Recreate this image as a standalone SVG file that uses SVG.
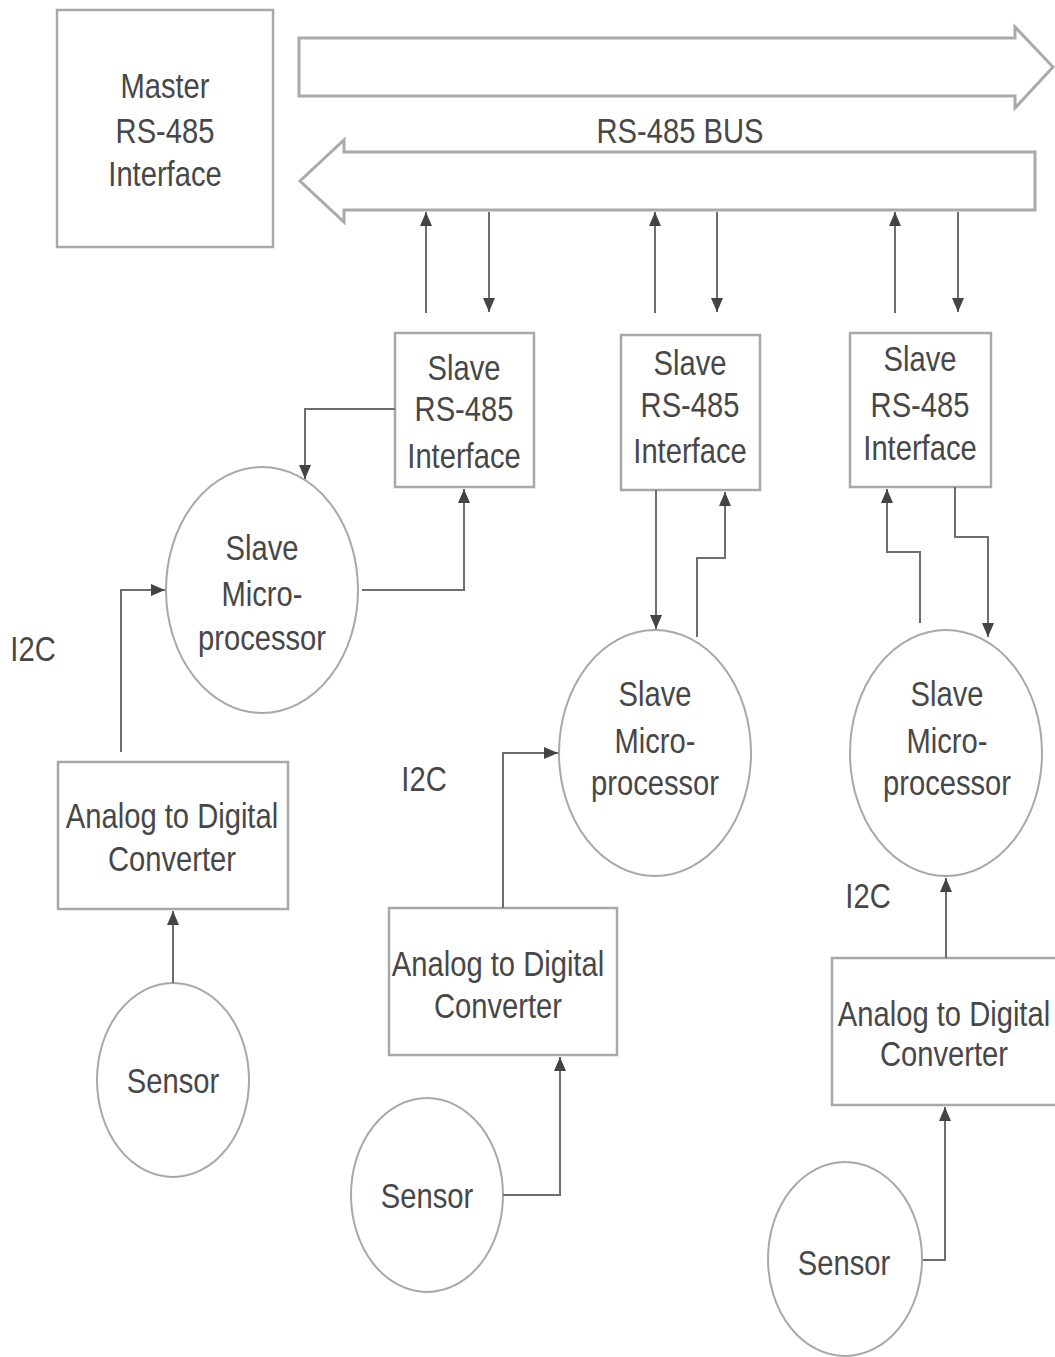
<svg xmlns="http://www.w3.org/2000/svg" width="1055" height="1357" viewBox="0 0 1055 1357">
<style>
.box{fill:#fff;stroke:#a8a8a8;stroke-width:2.5}
.ell{fill:#fff;stroke:#a8a8a8;stroke-width:2}
.bus{fill:#fff;stroke:#aaaaaa;stroke-width:3}
.t{font-family:"Liberation Sans",Arial,sans-serif;font-size:36px;fill:#474747;text-anchor:middle}
.c{fill:none;stroke:#6e6e6e;stroke-width:2;marker-end:url(#ah)}
</style>
<defs>
<marker id="ah" viewBox="0 0 14 12" refX="14" refY="6" markerWidth="14" markerHeight="12" markerUnits="userSpaceOnUse" orient="auto">
<path d="M0,0 L14,6 L0,12 z" fill="#444"/>
</marker>
</defs>
<rect width="1055" height="1357" fill="#fff"/>

<g id="master">
<rect class="box" x="57" y="10" width="216" height="237"/>
<text class="t" transform="translate(165,98) scale(0.81,1)">Master</text>
<text class="t" transform="translate(165,143) scale(0.81,1)">RS-485</text>
<text class="t" transform="translate(165,186) scale(0.81,1)">Interface</text>
</g>

<g id="bus">
<polygon class="bus" points="299,38 1015,38 1015,27 1053,67 1015,108 1015,96 299,96"/>
<polygon class="bus" points="1035,152 344,152 344,140 300,181 344,222 344,210 1035,210"/>
<text class="t" transform="translate(680,143) scale(0.81,1)">RS-485 BUS</text>
</g>

<g id="slave1">
<rect class="box" x="395" y="333" width="139" height="154"/>
<text class="t" transform="translate(464,380) scale(0.81,1)">Slave</text>
<text class="t" transform="translate(464,421) scale(0.81,1)">RS-485</text>
<text class="t" transform="translate(464,468) scale(0.81,1)">Interface</text>
</g>
<g id="slave2">
<rect class="box" x="621" y="335" width="139" height="155"/>
<text class="t" transform="translate(690,375) scale(0.81,1)">Slave</text>
<text class="t" transform="translate(690,417) scale(0.81,1)">RS-485</text>
<text class="t" transform="translate(690,463) scale(0.81,1)">Interface</text>
</g>
<g id="slave3">
<rect class="box" x="850" y="333" width="141" height="154"/>
<text class="t" transform="translate(920,371) scale(0.81,1)">Slave</text>
<text class="t" transform="translate(920,417) scale(0.81,1)">RS-485</text>
<text class="t" transform="translate(920,460) scale(0.81,1)">Interface</text>
</g>

<g id="micro1">
<ellipse class="ell" cx="262" cy="590" rx="96" ry="123"/>
<text class="t" transform="translate(262,560) scale(0.81,1)">Slave</text>
<text class="t" transform="translate(262,606) scale(0.81,1)">Micro-</text>
<text class="t" transform="translate(262,650) scale(0.81,1)">processor</text>
</g>
<g id="micro2">
<ellipse class="ell" cx="655" cy="753" rx="96" ry="123"/>
<text class="t" transform="translate(655,706) scale(0.81,1)">Slave</text>
<text class="t" transform="translate(655,753) scale(0.81,1)">Micro-</text>
<text class="t" transform="translate(655,795) scale(0.81,1)">processor</text>
</g>
<g id="micro3">
<ellipse class="ell" cx="946" cy="753" rx="96" ry="123"/>
<text class="t" transform="translate(947,706) scale(0.81,1)">Slave</text>
<text class="t" transform="translate(947,753) scale(0.81,1)">Micro-</text>
<text class="t" transform="translate(947,795) scale(0.81,1)">processor</text>
</g>

<g id="i2c-labels">
<text class="t" transform="translate(33,661) scale(0.81,1)">I2C</text>
<text class="t" transform="translate(424,791) scale(0.81,1)">I2C</text>
<text class="t" transform="translate(868,908) scale(0.81,1)">I2C</text>
</g>

<g id="adc1">
<rect class="box" x="58" y="762" width="230" height="147"/>
<text class="t" transform="translate(172,828) scale(0.81,1)">Analog to Digital</text>
<text class="t" transform="translate(172,871) scale(0.81,1)">Converter</text>
</g>
<g id="adc2">
<rect class="box" x="389" y="908" width="228" height="147"/>
<text class="t" transform="translate(498,976) scale(0.81,1)">Analog to Digital</text>
<text class="t" transform="translate(498,1018) scale(0.81,1)">Converter</text>
</g>
<g id="adc3">
<rect class="box" x="832" y="958" width="230" height="147"/>
<text class="t" transform="translate(944,1026) scale(0.81,1)">Analog to Digital</text>
<text class="t" transform="translate(944,1066) scale(0.81,1)">Converter</text>
</g>

<g id="sensor1">
<ellipse class="ell" cx="173" cy="1080" rx="76" ry="97"/>
<text class="t" transform="translate(173,1093) scale(0.81,1)">Sensor</text>
</g>
<g id="sensor2">
<ellipse class="ell" cx="427" cy="1195" rx="76" ry="97"/>
<text class="t" transform="translate(427,1208) scale(0.81,1)">Sensor</text>
</g>
<g id="sensor3">
<ellipse class="ell" cx="845" cy="1259" rx="77" ry="97"/>
<text class="t" transform="translate(844,1275) scale(0.81,1)">Sensor</text>
</g>

<g id="connectors">
<path class="c" d="M426,313 V212"/>
<path class="c" d="M489,212 V312"/>
<path class="c" d="M655,313 V212"/>
<path class="c" d="M717,212 V312"/>
<path class="c" d="M895,313 V212"/>
<path class="c" d="M958,212 V312"/>
<path class="c" d="M395,409 H305 V479"/>
<path class="c" d="M362,590 H464 V489"/>
<path class="c" d="M121,752 V590 H165"/>
<path class="c" d="M173,983 V911"/>
<path class="c" d="M656,490 V629"/>
<path class="c" d="M697,637 V558 H725 V492"/>
<path class="c" d="M503,908 V753 H558"/>
<path class="c" d="M503,1195 H560 V1057"/>
<path class="c" d="M920,623 V552 H887 V489"/>
<path class="c" d="M955,487 V537 H988 V637"/>
<path class="c" d="M946,958 V878"/>
<path class="c" d="M923,1260 H945 V1107"/>
</g>
</svg>
